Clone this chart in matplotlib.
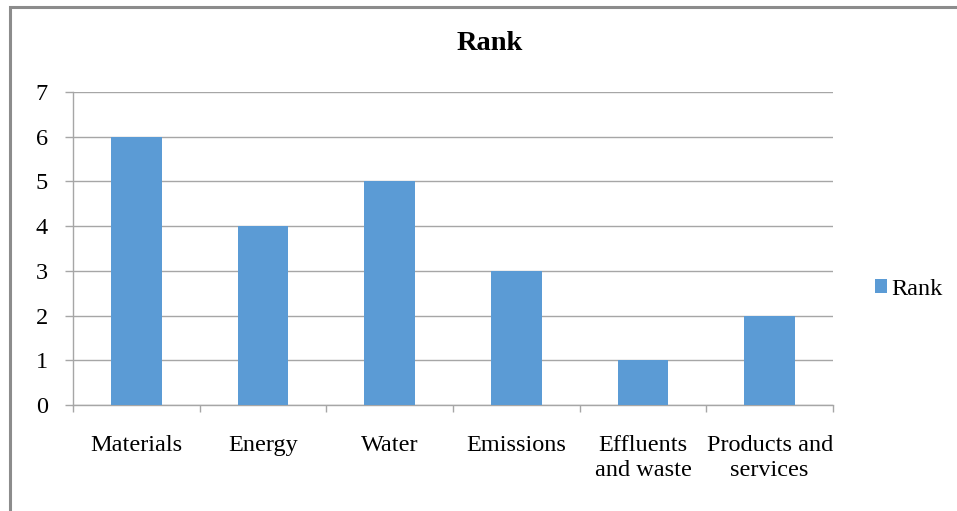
import matplotlib
matplotlib.use("Agg")
import matplotlib.pyplot as plt
from matplotlib.patches import Rectangle, Patch

categories = ["Materials", "Energy", "Water", "Emissions",
              "Effluents\nand waste", "Products and\nservices"]
rank = [6, 4, 5, 3, 1, 2]
yticks = [0, 1, 2, 3, 4, 5, 6, 7]

bar_color = "#5B9BD5"
grid_color = "#A6A6A6"
serif = ["Liberation Serif", "DejaVu Serif"]
fs = 17.5

W, H = 957, 511
plt.rcParams["font.family"] = serif
fig = plt.figure(figsize=(W / 100, H / 100), dpi=100)

# outer chart frame (runs off the right and bottom edges)
fig.patches.append(Rectangle((9.5 / W, -0.1), 2.0, (H - 6.5) / H + 0.1,
                             transform=fig.transFigure, fill=False,
                             edgecolor="#8C8C8C", linewidth=2.2, zorder=0))

ax = fig.add_axes([73 / W, (H - 405) / H, (833 - 73) / W, (405 - 92) / H])
x = list(range(len(categories)))
ax.bar(x, rank, width=0.4, color=bar_color, zorder=3, label="Rank")

ax.set_xlim(-0.5, len(categories) - 0.5)
ax.set_ylim(0, 7)
ax.set_yticks(yticks)
ax.set_yticklabels([str(v) for v in yticks], fontsize=fs)
ax.yaxis.grid(True, color=grid_color, linewidth=1.0, zorder=0)
ax.set_axisbelow(True)

# category labels between boundary ticks
ax.set_xticks([i - 0.5 for i in range(len(categories) + 1)])
ax.set_xticklabels([])
ax.set_xticks(x, minor=True)
ax.set_xticklabels(categories, minor=True, fontsize=fs, linespacing=1.25)
ax.tick_params(axis="x", which="minor", length=0, pad=21.5)
ax.tick_params(axis="x", which="major", length=5, color=grid_color, width=1.0)
ax.tick_params(axis="y", length=6, color=grid_color, width=1.0, pad=12)

for s in ("top", "right"):
    ax.spines[s].set_visible(False)
for s in ("left", "bottom"):
    ax.spines[s].set_color(grid_color)
    ax.spines[s].set_linewidth(1.0)

fig.text(490 / W, 1 - 44 / H, "Rank", ha="center", va="center",
         fontsize=20.5, fontweight="bold")

fig.legend(handles=[Patch(facecolor=bar_color, label="Rank")],
           loc="center left", bbox_to_anchor=(875 / W, 1 - 289 / H),
           frameon=False, fontsize=fs, handlelength=0.48, handleheight=0.48,
           handletextpad=0.18, borderpad=0, borderaxespad=0)

fig.savefig("out.png", dpi=100)
